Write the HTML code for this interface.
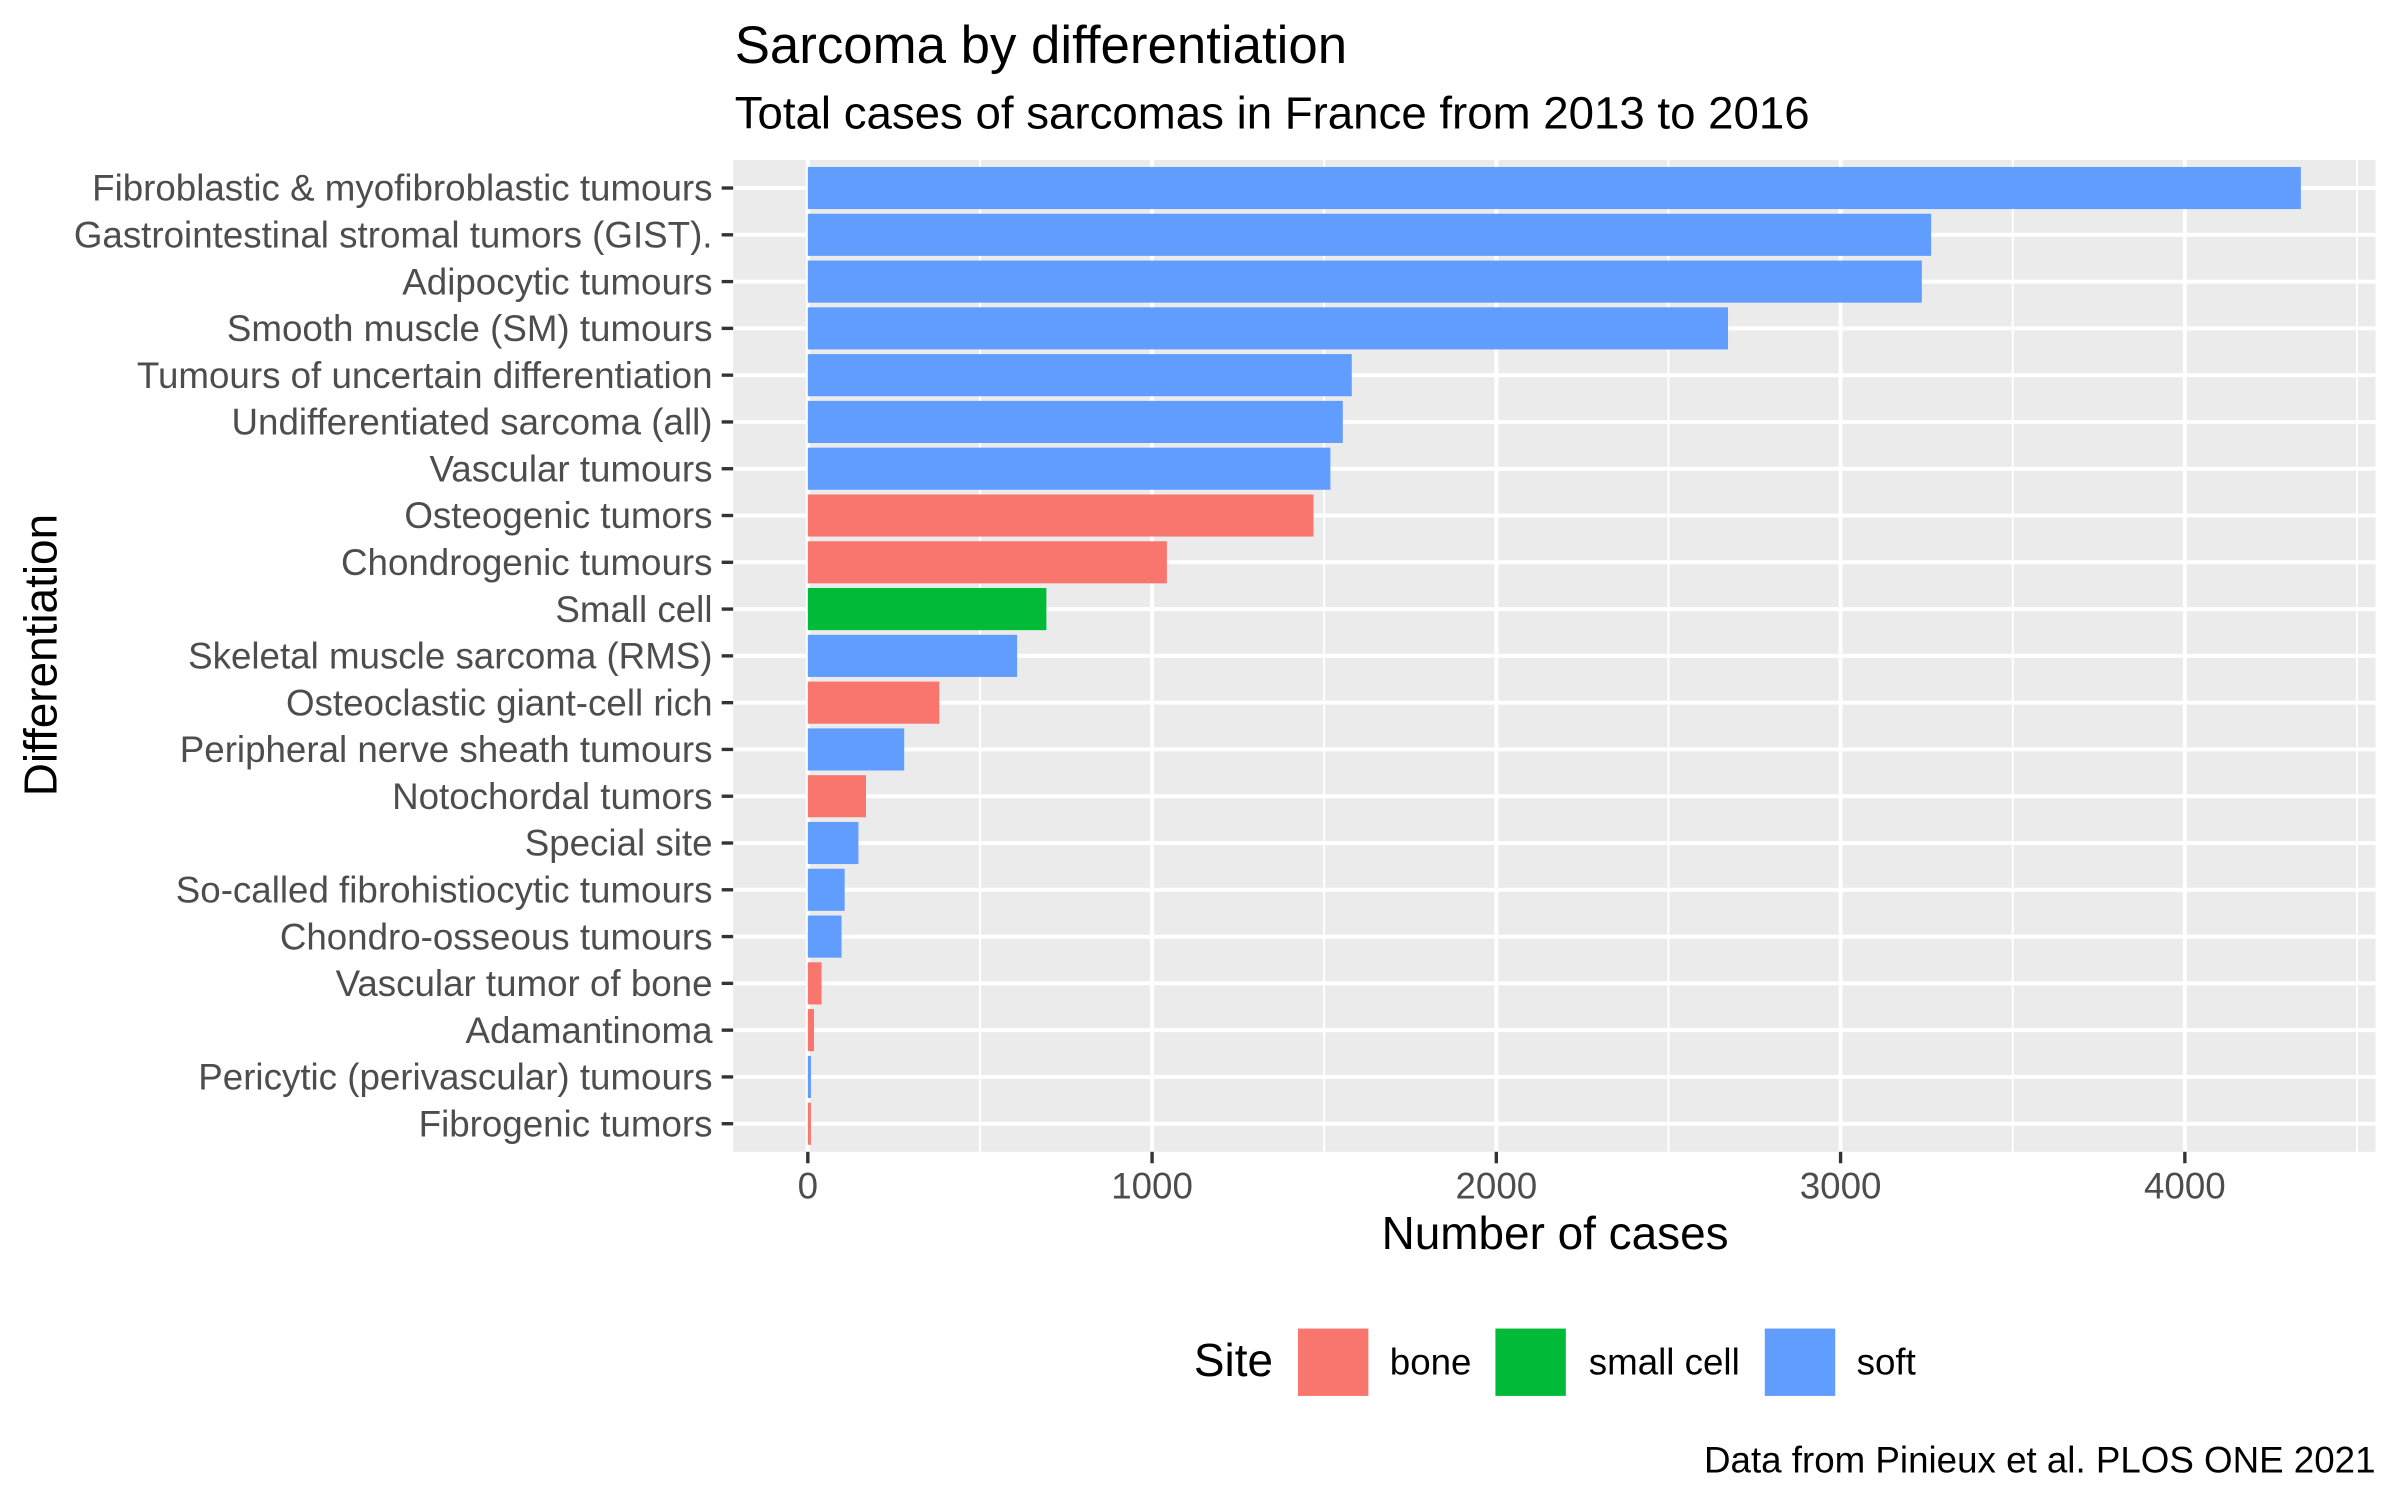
<!DOCTYPE html>
<html><head><meta charset="utf-8"><style>
html,body{margin:0;padding:0;background:#fff}
svg{display:block}
text{font-family:"Liberation Sans",Arial,sans-serif}
</style></head><body>
<svg id="chart" width="2400" height="1500" viewBox="0 0 1568 980" preserveAspectRatio="none">
<rect width="1568" height="980" fill="#fff"/>
<text x="480" y="41" font-size="34.5" fill="#000">Sarcoma by differentiation</text>
<text x="480" y="84" font-size="29.8" fill="#000">Total cases of sarcomas in France from 2013 to 2016</text>
<rect x="479" y="104.5" width="1073" height="648" fill="#ebebeb"/>
<g id="grid"></g><g id="bars"></g><g id="yaxis"></g><g id="xaxis"></g>
<text x="1016" y="816" font-size="30" text-anchor="middle" fill="#000">Number of cases</text>
<text transform="translate(37,428) rotate(-90)" font-size="30" text-anchor="middle" fill="#000">Differentiation</text>
<g>
<text x="780" y="899" font-size="30" fill="#000">Site</text>
<g><rect x="848" y="868" width="46" height="44" fill="#f8766d"/><text x="908" y="898" font-size="24" fill="#000">bone</text></g>
<g><rect x="977" y="868" width="46" height="44" fill="#00ba38"/><text x="1038" y="898" font-size="24" fill="#000">small cell</text></g>
<g><rect x="1153" y="868" width="46" height="44" fill="#619cff"/><text x="1213" y="898" font-size="24" fill="#000">soft</text></g>
</g>
<text x="1552" y="962" font-size="24" text-anchor="end" fill="#000">Data from Pinieux et al. PLOS ONE 2021</text>
</svg>
<script>
const categories = ["Fibroblastic & myofibroblastic tumours","Gastrointestinal stromal tumors (GIST).","Adipocytic tumours","Smooth muscle (SM) tumours","Tumours of uncertain differentiation","Undifferentiated sarcoma (all)","Vascular tumours","Osteogenic tumors","Chondrogenic tumours","Small cell","Skeletal muscle sarcoma (RMS)","Osteoclastic giant-cell rich","Peripheral nerve sheath tumours","Notochordal tumors","Special site","So-called fibrohistiocytic tumours","Chondro-osseous tumours","Vascular tumor of bone","Adamantinoma","Pericytic (perivascular) tumours","Fibrogenic tumors"];
const values = [4337,3263,3236,2673,1580,1554,1518,1469,1043,693,608,382,280,169,147,107,98,40,18,9,9];
const sites = ["soft","soft","soft","soft","soft","soft","soft","bone","bone","small cell","soft","bone","soft","bone","soft","soft","soft","bone","bone","soft","bone"];
const xTicks = [0,1000,2000,3000,4000];
const xMinor = [500,1500,2500,3500,4500];
const colors = {"bone":"#f8766d","small cell":"#00ba38","soft":"#619cff"};
const NS="http://www.w3.org/2000/svg";
const PL=479,PR=1552,PT=104.5,PB=752.5;
const XMAX0=Math.max(...values),XPAD=XMAX0*0.05,XMIN=-XPAD,XMAX=XMAX0+XPAD;
function xs(v){return PL+(v-XMIN)/(XMAX-XMIN)*(PR-PL);}
const step=(PB-PT)/(categories.length+0.2);
function ys(i){return PT+step*(i+0.6);}
function mk(t,a,p){const e=document.createElementNS(NS,t);for(const k in a)e.setAttribute(k,a[k]);p.appendChild(e);return e;}
const g=document.getElementById('grid'),b=document.getElementById('bars'),ya=document.getElementById('yaxis'),xa=document.getElementById('xaxis');
xMinor.forEach(v=>{if(xs(v)>PR)return;const l=mk('line',{x1:xs(v),x2:xs(v),y1:PT,y2:PB,stroke:'#fff','stroke-width':1.3},g);

});
xTicks.forEach(v=>{const l=mk('line',{x1:xs(v),x2:xs(v),y1:PT,y2:PB,stroke:'#fff','stroke-width':2.6},g);


const tk=mk('line',{x1:xs(v),x2:xs(v),y1:PB,y2:PB+7.5,stroke:'#333','stroke-width':2.2},xa);


const t=mk('text',{x:xs(v),y:783,'font-size':24,'text-anchor':'middle',fill:'#4d4d4d'},xa);t.textContent=v;

});
categories.forEach((c,i)=>{const y=ys(i);
const l=mk('line',{x1:PL,x2:PR,y1:y,y2:y,stroke:'#fff','stroke-width':2.6},g);


const bh=step*0.9;
const r=mk('rect',{x:xs(0),y:y-bh/2,width:Math.max(xs(values[i])-xs(0),0),height:bh,fill:colors[sites[i]]},b);


const tk=mk('line',{x1:PL-7.5,x2:PL,y1:y,y2:y,stroke:'#333','stroke-width':2.2},ya);


const t=mk('text',{x:PL-13.5,y:y+8.3,'font-size':24,'text-anchor':'end',fill:'#4d4d4d'},ya);t.textContent=c;

});
</script>
</body></html>
